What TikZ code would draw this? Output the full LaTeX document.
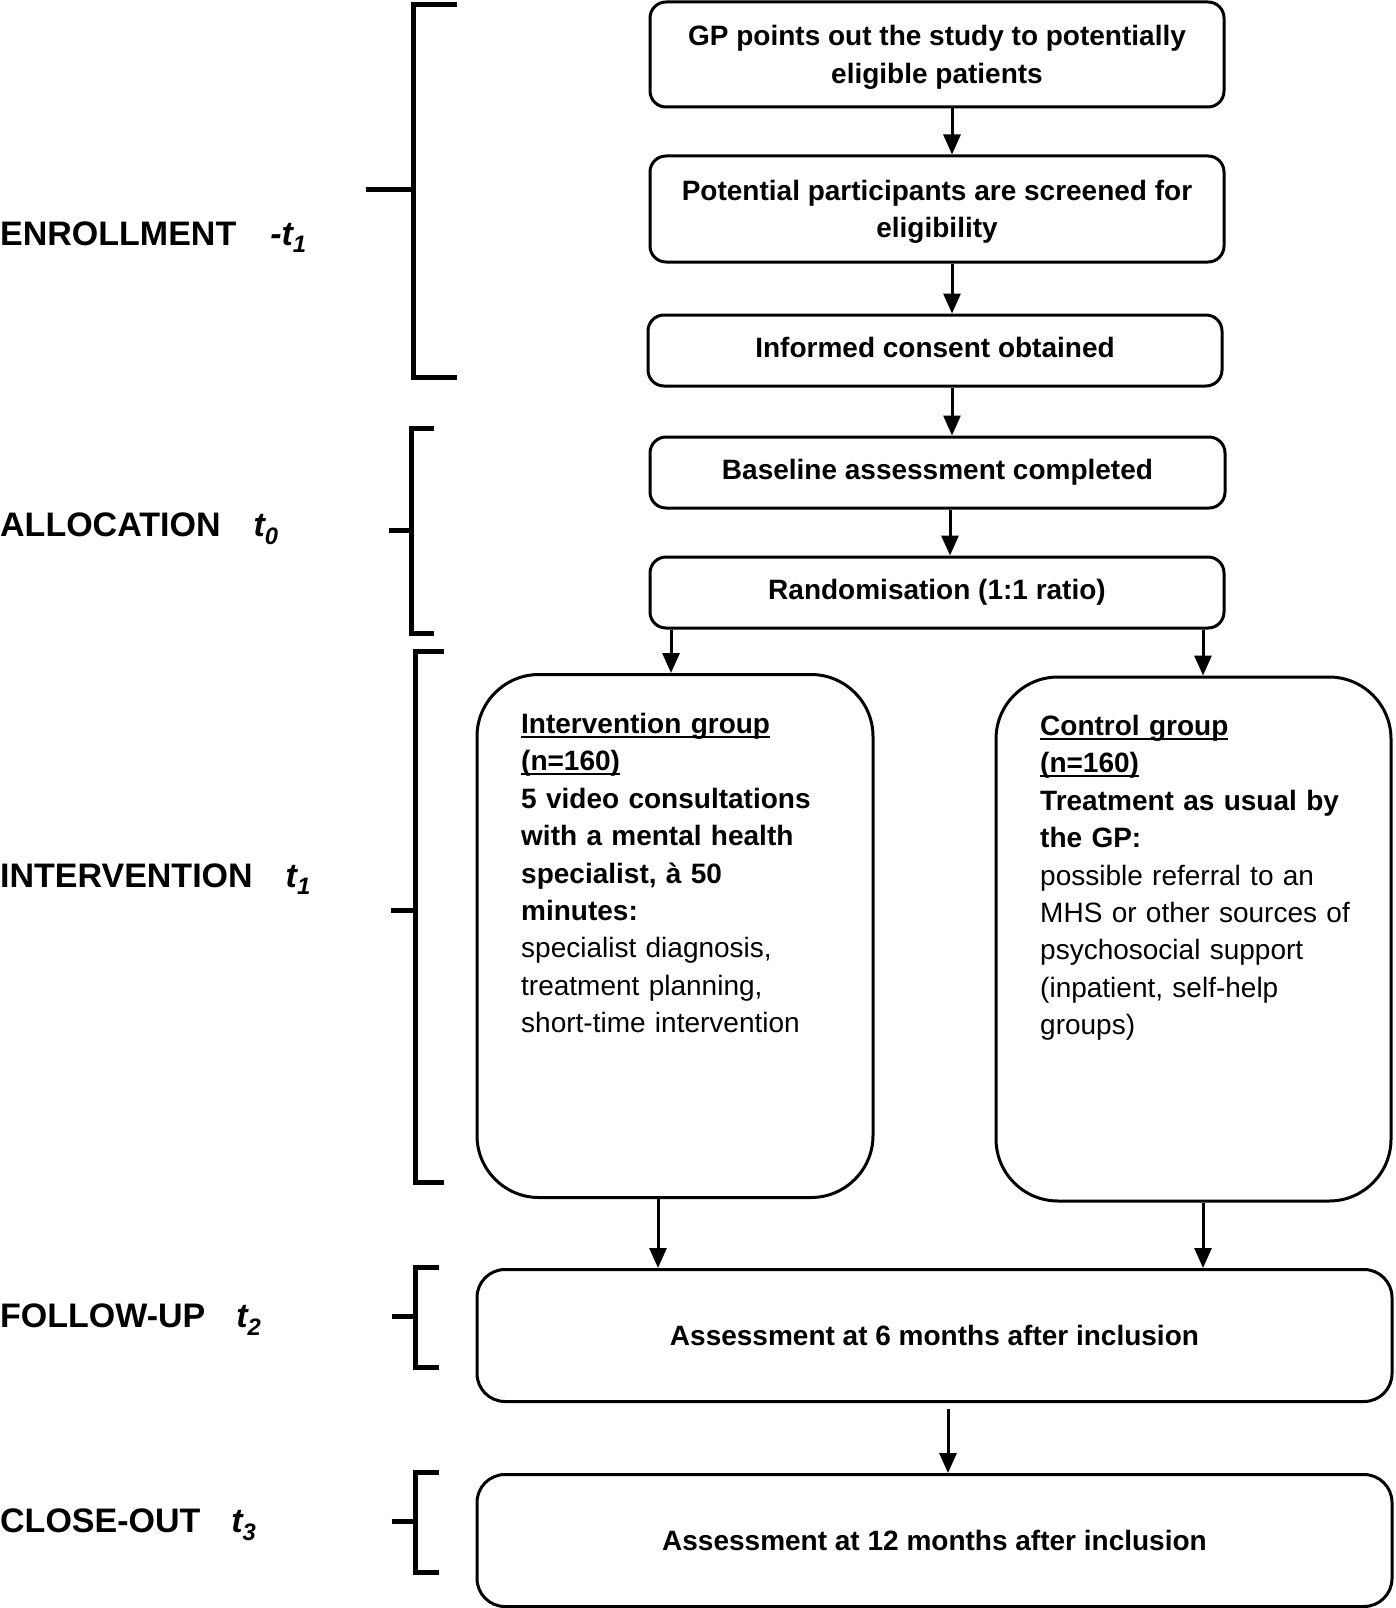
\documentclass[tikz,border=0pt]{standalone}
\usepackage{fontspec}
\setmainfont{Liberation Sans}
\usetikzlibrary{arrows.meta,calc}
\newcommand\myul[1]{\leavevmode\setbox0\hbox{#1}\rlap{\rule[-4.5pt]{\wd0}{2.4pt}}\box0}
\begin{document}
\begin{tikzpicture}[x=1pt,y=-1pt,
  box/.style={draw, line width=3pt, rounded corners=16pt, fill=white, align=center, inner sep=0pt,
    font=\fontsize{28}{37.4}\selectfont\bfseries},
  one/.style={box, text height=20pt, text depth=6pt},
  big/.style={draw, line width=3pt, rounded corners=62pt, fill=white},
  wide/.style={draw, line width=3pt, rounded corners=28pt, fill=white, inner sep=0pt,
    font=\fontsize{28}{37.4}\selectfont\bfseries, text height=20pt, text depth=1pt},
  lbl/.style={anchor=base west, inner sep=0pt, font=\fontsize{34}{40}\selectfont\bfseries},
  txt/.style={anchor=north west, inner sep=0pt, text width=340pt, align=left,
    font=\fontsize{28}{37.4}\selectfont},
  brk/.style={line width=5pt},
  arr/.style={line width=3pt, -{Triangle[length=20pt,width=17pt]}}]

\fill[white] (0,0) rectangle (1395,1608);
\useasboundingbox (0,0) rectangle (1395,1608);

% boxes
\node[box, minimum width=574pt, minimum height=105pt] (b1) at (937,54.5)
  {\rule{0pt}{26pt}GP points out the study to potentially\\eligible patients};
\node[box, minimum width=574pt, minimum height=106pt] (b2) at (937,209)
  {\rule{0pt}{26pt}Potential participants are screened for\\eligibility};
\node[one, minimum width=574pt, minimum height=71pt] (b3) at (935,350.5)
  {Informed consent obtained};
\node[one, minimum width=575pt, minimum height=71pt] (b4) at (937.5,472.5)
  {Baseline assessment completed};
\node[one, minimum width=574pt, minimum height=71pt] (b5) at (937,592.5)
  {Randomisation (1:1 ratio)};
\node[big, minimum width=396pt, minimum height=523pt] (iv) at (675,936) {};
\node[big, minimum width=395pt, minimum height=524pt] (cg) at (1193.5,939) {};
\node[wide, minimum width=915pt, minimum height=132pt] (fu) at (934.5,1335.5)
  {Assessment at 6 months after inclusion};
\node[wide, minimum width=915pt, minimum height=132pt] (co) at (934.5,1540.5)
  {Assessment at 12 months after inclusion};

\node[txt] (ivt) at (521,713)
  {\bfseries\myul{Intervention group}\\\myul{(n=160)}\\5 video consultations\\with a mental health\\specialist, à 50\\minutes:\\\mdseries specialist diagnosis,\\treatment planning,\\short-time intervention};
\node[txt] (cgt) at (1040,715)
  {\bfseries\myul{Control group}\\\myul{(n=160)}\\Treatment as usual by\\the GP:\\\mdseries possible referral to an\\MHS or other sources of\\psychosocial support\\(inpatient, self-help\\groups)};

% arrows
\coordinate (xa) at (952,0);
\coordinate (xb) at (950,0);
\coordinate (xl) at (671,0);
\coordinate (xr) at (1203,0);
\coordinate (xl2) at (658,0);
\coordinate (xf) at (948,0);
\draw[arr] (b1.south -| xa) -- (b2.north -| xa);
\draw[arr] (b2.south -| xa) -- (b3.north -| xa);
\draw[arr] (b3.south -| xa) -- (b4.north -| xa);
\draw[arr] (b4.south -| xb) -- (b5.north -| xb);
\draw[arr] (b5.south -| xl) -- (iv.north -| xl);
\draw[arr] (b5.south -| xr) -- (cg.north -| xr);
\draw[arr] (iv.south -| xl2) -- (fu.north -| xl2);
\draw[arr] (cg.south -| xr) -- (fu.north -| xr);
\draw[arr] ($(fu.south -| xf)+(0,6)$) -- (co.north -| xf);

% brackets
\draw[brk] (457,5) -- (413.5,5) -- (413.5,377.5) -- (457,377.5);
\draw[brk] (365.5,190) -- (413.5,190);
\draw[brk] (433.5,428.5) -- (411.5,428.5) -- (411.5,633.5) -- (433.5,633.5);
\draw[brk] (389,530) -- (411.5,530);
\draw[brk] (443.5,651) -- (415.5,651) -- (415.5,1182.5) -- (443.5,1182.5);
\draw[brk] (391,910) -- (415.5,910);
\draw[brk] (439,1267.5) -- (415.5,1267.5) -- (415.5,1367) -- (439,1367);
\draw[brk] (391.5,1316.5) -- (415.5,1316.5);
\draw[brk] (439,1472.5) -- (415.5,1472.5) -- (415.5,1572.5) -- (439,1572.5);
\draw[brk] (391.5,1521.5) -- (415.5,1521.5);

% labels
\node[lbl] (l1) at (0,245) {ENROLLMENT\hspace{34pt}{\itshape -t\textsubscript{1}}};
\node[lbl] (l2) at (0,536.3) {ALLOCATION\hspace{33pt}{\itshape t\textsubscript{0}}};
\node[lbl] (l3) at (0,887) {INTERVENTION\hspace{33pt}{\itshape t\textsubscript{1}}};
\node[lbl] (l4) at (0,1327.2) {FOLLOW-UP\hspace{31pt}{\itshape t\textsubscript{2}}};
\node[lbl] (l5) at (0,1532.3) {CLOSE-OUT\hspace{31pt}{\itshape t\textsubscript{3}}};
\end{tikzpicture}
\end{document}
